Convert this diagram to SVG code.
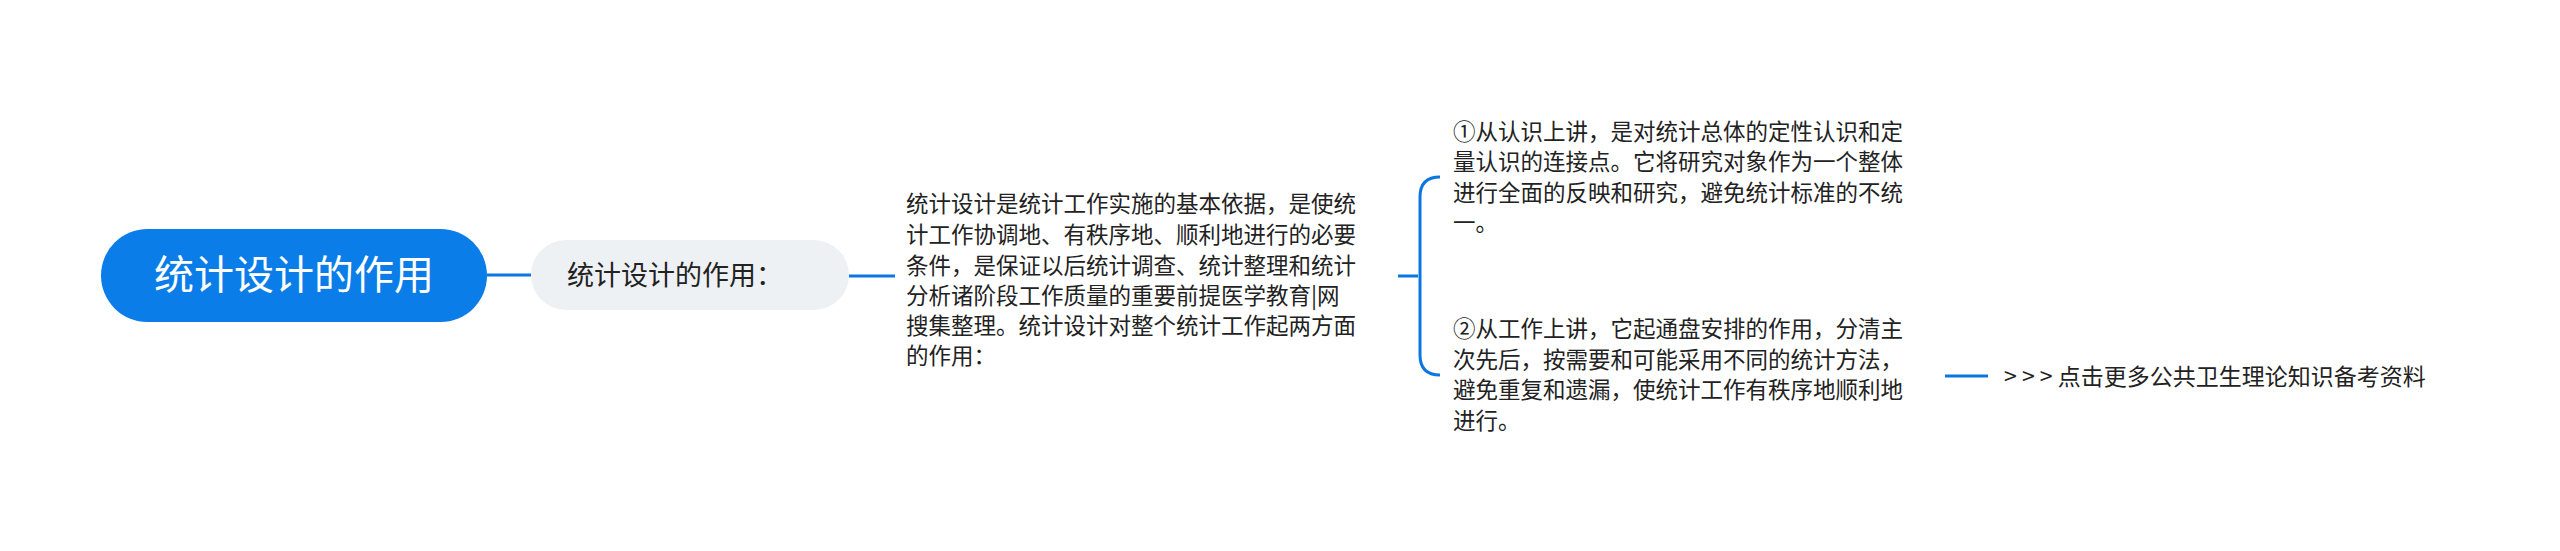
<svg xmlns="http://www.w3.org/2000/svg" width="2560" height="551" viewBox="0 0 2560 551">
<style>
text{font-family:"Noto Sans CJK SC","Noto Sans",sans-serif;fill:#222}
.c{fill:none;stroke:#0a77e0;stroke-width:3}
.t{font-size:22.5px}
</style>
<rect width="2560" height="551" fill="#fff"/>
<g id="connectors">
<path class="c" d="M487 275H531"/>
<path class="c" d="M849 276H895"/>
<path class="c" d="M1398 276H1418"/>
<path class="c" d="M1440 177Q1420 177 1420 197V355Q1420 375 1440 375"/>
<path class="c" d="M1945 376H1988"/>
</g>
<g id="root">
<rect x="101" y="229" width="386" height="93" rx="46.5" fill="#0a7de8"/>
<text x="294" y="289" font-size="40" text-anchor="middle" style="fill:#fff">统计设计的作用</text>
</g>
<g id="child">
<rect x="531" y="240" width="318" height="70" rx="35" fill="#eef1f4"/>
<text x="567" y="285" font-size="27">统计设计的作用：</text>
</g>
<g id="desc" class="t">
<text x="906" y="212">统计设计是统计工作实施的基本依据，是使统</text>
<text x="906" y="243">计工作协调地、有秩序地、顺利地进行的必要</text>
<text x="906" y="274">条件，是保证以后统计调查、统计整理和统计</text>
<text x="906" y="304">分析诸阶段工作质量的重要前提医学教育|网</text>
<text x="906" y="334">搜集整理。统计设计对整个统计工作起两方面</text>
<text x="906" y="364">的作用：</text>
</g>
<g id="p1" class="t">
<text x="1453" y="140">①从认识上讲，是对统计总体的定性认识和定</text>
<text x="1453" y="170">量认识的连接点。它将研究对象作为一个整体</text>
<text x="1453" y="201">进行全面的反映和研究，避免统计标准的不统</text>
<text x="1453" y="231">一。</text>
</g>
<g id="p2" class="t">
<text x="1453" y="337">②从工作上讲，它起通盘安排的作用，分清主</text>
<text x="1453" y="368">次先后，按需要和可能采用不同的统计方法，</text>
<text x="1453" y="398">避免重复和遗漏，使统计工作有秩序地顺利地</text>
<text x="1453" y="429">进行。</text>
</g>
<g id="more">
<text x="2004" y="385" font-size="23">&gt; &gt; &gt; 点击更多公共卫生理论知识备考资料</text>
</g>
</svg>
